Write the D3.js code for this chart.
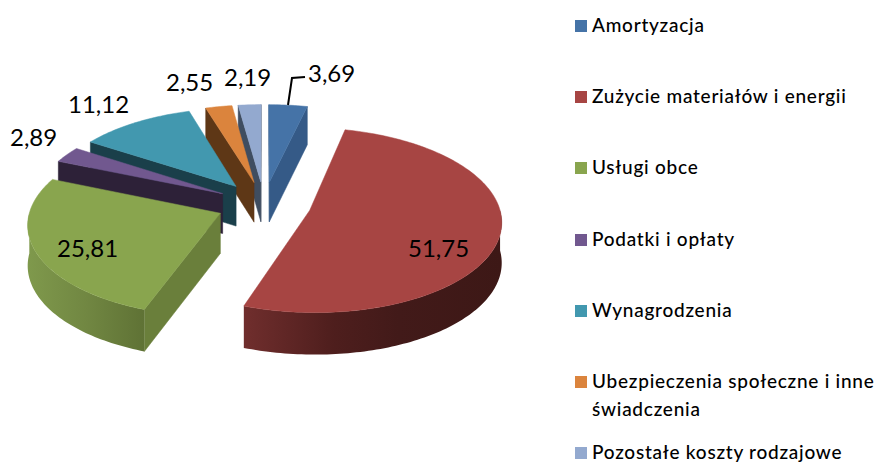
<!DOCTYPE html>
<html><head><meta charset="utf-8">
<script src="https://cdn.jsdelivr.net/npm/d3@7"></script>
<style>html,body{margin:0;padding:0;background:#fff}svg{display:block}text{font-family:Lato,"Open Sans",sans-serif;fill:#000}</style>
</head><body><svg id="c" width="876" height="464"></svg>
<script>
const categories = ["Amortyzacja","Zużycie materiałów i energii","Usługi obce","Podatki i opłaty","Wynagrodzenia","Ubezpieczenia społeczne i inne świadczenia","Pozostałe koszty rodzajowe"];
const values = [3.69,51.75,25.81,2.89,11.12,2.55,2.19];
const valueLabels = ["3,69","51,75","25,81","2,89","11,12","2,55","2,19"];
const topColors = ["#4573a7","#a74543","#89a54e","#71588f","#4298af","#db843d","#93a9cf"];
const wallColors = ["#355a87","#5a2321","#6a7f3b","#2d2138","#1a3f4a","#5e3716","#3f4d60"];

// layout (not data)
const cx=264, cy=204, Rx=189, Ry=90, k=0.105, explode=0.25, depth=40;
const drawOrder=[0,6,5,4,3,2,1];
const labelPos=[[308,82],[408,257],[57,257],[10,146],[68,113],[166,91],[224,86]];
const legendY=[26,97,168,240,311,382,453];
const arcShade={1:[["0%","#702e2d"],["35%","#4e1e1d"],["60%","#421a19"],["100%","#3d1816"]],
                2:[["0%","#7f994c"],["50%","#718742"],["100%","#5f7235"]]};

const svg=d3.select("#c");
const xS=d3.scaleLinear().domain([-1,1]).range([cx-Rx,cx+Rx]);
const yS=d3.scaleLinear().domain([-1,1]).range([cy+Ry,cy-Ry]);
const pie=d3.pie().sort(null).value(d=>d);
const arcs=pie(values);
const line=d3.line().x(d=>d[0]).y(d=>d[1]);

function project(u,v){const w=1/(1+k*v);return {x:xS(u*w),y:yS(v*w),w};}
function facePoint(a,r,th){
  const m=(a.startAngle+a.endAngle)/2;
  const u=explode*Math.sin(m)+r*Math.sin(th), v=explode*Math.cos(m)+r*Math.cos(th);
  return project(u,v);
}
const pt=p=>[p.x,p.y];
const low=p=>[p.x,p.y+depth*(1+(p.w-1)*0.4)];
function sweep(a0,a1){const n=Math.max(2,Math.ceil((a1-a0)/0.02));return d3.range(n+1).map(i=>a0+(a1-a0)*i/n);}

const defs=svg.append("defs");
const pieG=svg.append("g");
drawOrder.forEach(i=>{
  const a=arcs[i], g=pieG.append("g");
  const apex=facePoint(a,0,0), s=facePoint(a,1,a.startAngle), e=facePoint(a,1,a.endAngle);
  // radial walls
  if(s.x<apex.x) g.append("path").attr("d",line([pt(apex),pt(s),low(s),low(apex)])+"Z").attr("fill",wallColors[i]).attr("stroke",wallColors[i]).attr("stroke-width",.5);
  if(e.x>apex.x) g.append("path").attr("d",line([pt(e),pt(apex),low(apex),low(e)])+"Z").attr("fill",wallColors[i]).attr("stroke",wallColors[i]).attr("stroke-width",.5);
  // outer wall, only the front half of the rim faces the viewer
  const a0=Math.max(a.startAngle,Math.PI/2), a1=Math.min(a.endAngle,3*Math.PI/2);
  if(a1>a0){
    const rim=sweep(a0,a1).map(t=>facePoint(a,1,t));
    const xs=rim.map(p=>p.x);
    const gid="g"+i;
    const grad=defs.append("linearGradient").attr("id",gid).attr("gradientUnits","userSpaceOnUse")
      .attr("x1",d3.min(xs)).attr("x2",d3.max(xs)).attr("y1",0).attr("y2",0);
    (arcShade[i]||[["0%",wallColors[i]],["100%",wallColors[i]]]).forEach(st=>grad.append("stop").attr("offset",st[0]).attr("stop-color",st[1]));
    g.append("path").attr("d",line(rim.map(pt).concat(rim.slice().reverse().map(low)))+"Z").attr("fill",`url(#${gid})`);
  }
  // top face
  const face=[pt(apex)].concat(sweep(a.startAngle,a.endAngle).map(t=>pt(facePoint(a,1,t))));
  g.append("path").attr("d",line(face)+"Z").attr("fill",topColors[i]).attr("stroke",topColors[i]).attr("stroke-width",.5);
});

// leader line for the first label
svg.append("path").attr("d",line([[288,105],[292,78],[305,77]])).attr("fill","none").attr("stroke","#000").attr("stroke-width",2);

svg.append("g").selectAll("text").data(valueLabels).join("text")
  .attr("x",(d,i)=>labelPos[i][0]).attr("y",(d,i)=>labelPos[i][1])
  .attr("font-size",24).text(d=>d);

// legend
const leg=svg.append("g").selectAll("g").data(categories).join("g");
leg.append("rect").attr("x",575).attr("y",(d,i)=>legendY[i]-6).attr("width",12).attr("height",12).attr("fill",(d,i)=>topColors[i]);
leg.append("text").attr("x",592).attr("y",(d,i)=>legendY[i]+6).attr("font-size",19).attr("font-weight",500).attr("letter-spacing",.75)
  .each(function(d,i){
    const t=d3.select(this), words=d.split(" ");
    let cur=[],ts=t.append("tspan").attr("x",592);
    words.forEach(w=>{
      cur.push(w); ts.text(cur.join(" "));
      if(ts.node().getComputedTextLength()>285){
        cur.pop(); ts.text(cur.join(" "));
        cur=[w];
        ts=t.append("tspan").attr("x",592).attr("dy",28).text(w);
      }
    });
  });
</script></body></html>
